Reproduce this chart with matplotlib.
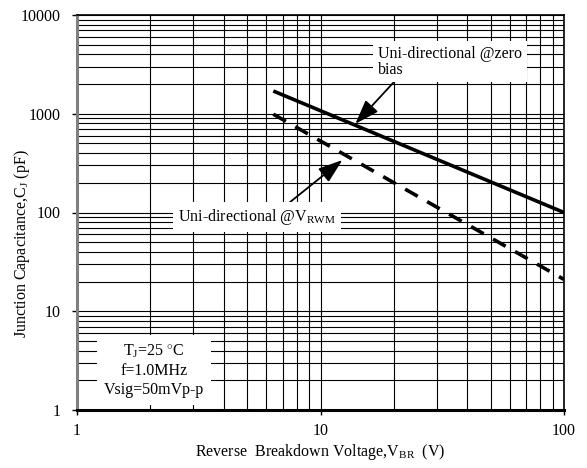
import matplotlib
matplotlib.use("Agg")
import matplotlib.pyplot as plt
import numpy as np
from matplotlib.ticker import LogLocator, FixedLocator, FixedFormatter, NullFormatter

plt.rcParams['font.family'] = ['Liberation Serif', 'DejaVu Serif']
plt.rcParams['mathtext.fontset'] = 'custom'
plt.rcParams['mathtext.rm'] = 'Liberation Serif'
plt.rcParams['mathtext.it'] = 'Liberation Serif'

# Data
zero_bias_v = [6.4, 100]
zero_bias_c = [1700, 100]
vrwm_v = [6.4, 100]
vrwm_c = [990, 21]

x_ticks = [1, 10, 100]
x_labels = ["1", "10", "100"]
y_ticks = [1, 10, 100, 1000, 10000]
y_labels = ["1", "10", "100", "1000", "10000"]

W, H = 587, 468
fig = plt.figure(figsize=(W/100, H/100), dpi=100)
ax = fig.add_axes([77/W, 1 - 410/H, (564-77)/W, (410-15)/H])

ax.set_xscale('log')
ax.set_yscale('log')
ax.set_xlim(1, 100)
ax.set_ylim(1, 10000)

ax.plot(zero_bias_v, zero_bias_c, color='black', lw=2.6, solid_capstyle='butt', zorder=3)
ax.plot(vrwm_v, vrwm_c, color='black', lw=2.6, dashes=(4, 3), dash_capstyle='butt', zorder=3)

ax.xaxis.set_major_locator(FixedLocator(x_ticks))
ax.xaxis.set_major_formatter(FixedFormatter(x_labels))
ax.yaxis.set_major_locator(FixedLocator(y_ticks))
ax.yaxis.set_major_formatter(FixedFormatter(y_labels))
ax.xaxis.set_minor_locator(LogLocator(base=10, subs=np.arange(2, 10)))
ax.yaxis.set_minor_locator(LogLocator(base=10, subs=np.arange(2, 10)))
ax.xaxis.set_minor_formatter(NullFormatter())
ax.yaxis.set_minor_formatter(NullFormatter())

ax.grid(True, which='both', color='black', lw=0.8, zorder=0)
ax.set_axisbelow(True)
ax.tick_params(which='major', direction='out', length=3.6, width=1, labelsize=11.5, color='black')
ax.tick_params(axis='y', which='major', pad=8.5)
ax.tick_params(axis='x', which='major', pad=6)
ax.tick_params(which='minor', length=0)

ax.spines['left'].set_color('#808080')
ax.spines['left'].set_linewidth(2.2)
ax.spines['bottom'].set_linewidth(2.2)
ax.spines['top'].set_linewidth(1.2)
ax.spines['right'].set_linewidth(1.2)

fig.text(320/W, 1 - 452/H, "Reverse  Breakdown Voltage,V$_{\\rm BR}$  (V)", fontsize=11.5,
         ha='center', va='center')
fig.text(22/W, 1 - 244/H, "Junction Capacitance,C$_{\\rm J}$ (pF)", fontsize=11.5,
         ha='center', va='center', rotation=90)

bbox = dict(boxstyle='square,pad=0.3', fc='white', ec='none')
ax.annotate("Uni-directional @zero\nbias", xy=(13.9, 790), xytext=(17.2, 4900),
            fontsize=11.5, ha='left', va='top', bbox=bbox, zorder=5, linespacing=1.0,
            arrowprops=dict(arrowstyle='-|>,head_length=1.3,head_width=0.45', color='black', lw=1.3,
                            shrinkA=0, shrinkB=0, relpos=(0.14, 0.0), patchA=None))
ax.annotate("Uni-directional @V$_{\\rm RWM}$", xy=(12.3, 340), xytext=(5.49, 90),
            fontsize=11.5, ha='center', va='center', bbox=bbox, zorder=5,
            arrowprops=dict(arrowstyle='-|>,head_length=1.3,head_width=0.45', color='black', lw=1.3,
                            shrinkA=0, shrinkB=0, relpos=(0.67, 1.0), patchA=None))

ax.text(2.07, 2.54, "T$_{\\rm J}$=25 $^{\\circ}$C\nf=1.0MHz\nVsig=50mVp-p", fontsize=11.5,
        ha='center', va='center', linespacing=1.25,
        bbox=dict(boxstyle='square,pad=0.45', fc='white', ec='none'), zorder=5)

fig.savefig("out.png", dpi=100)
